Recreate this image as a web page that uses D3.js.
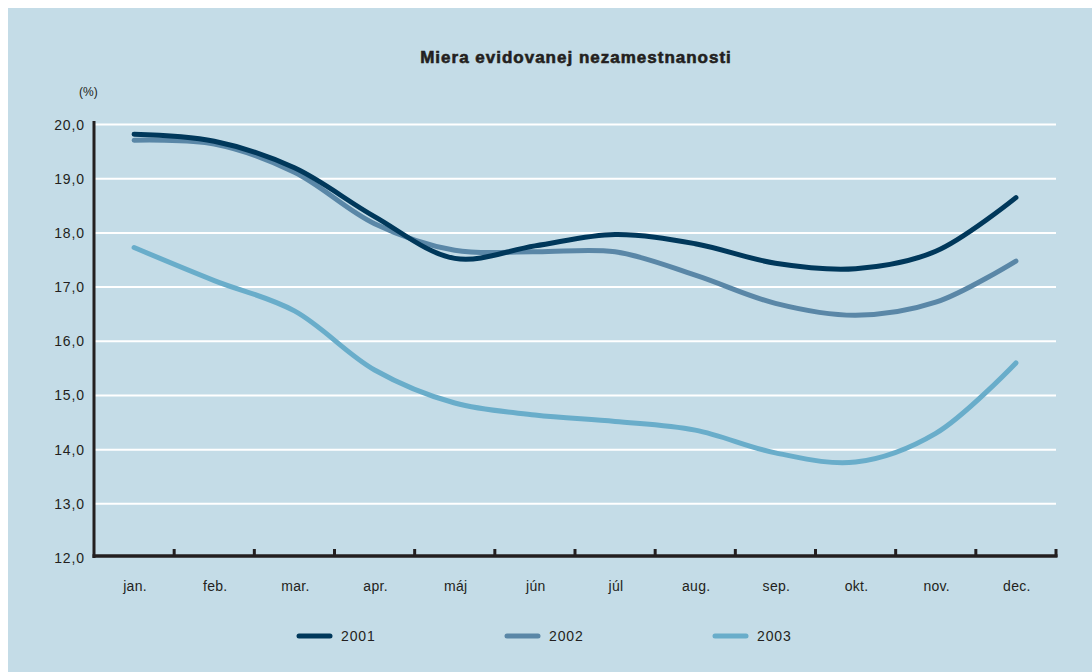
<!DOCTYPE html>
<html>
<head>
<meta charset="utf-8">
<script src="https://cdn.jsdelivr.net/npm/d3@7"></script>
<style>
  html, body { margin: 0; padding: 0; background: #ffffff; }
  svg { display: block; }
  text { font-family: "Liberation Sans", Arial, Helvetica, sans-serif; fill: #231f20; }
</style>
</head>
<body>
<script>
// Monthly registered unemployment rate (%), Slovakia
const months = ["jan.", "feb.", "mar.", "apr.", "máj", "jún", "júl", "aug.", "sep.", "okt.", "nov.", "dec."];
const years = ["2001", "2002", "2003"];
const rate2001 = [19.82, 19.69, 19.20, 18.30, 17.53, 17.76, 17.97, 17.80, 17.44, 17.34, 17.66, 18.65];
const rate2002 = [19.71, 19.64, 19.12, 18.17, 17.68, 17.65, 17.65, 17.22, 16.70, 16.48, 16.72, 17.48];
const rate2003 = [17.73, 17.12, 16.56, 15.47, 14.86, 14.64, 14.52, 14.36, 13.94, 13.77, 14.30, 15.60];
const yTicks = [12, 13, 14, 15, 16, 17, 18, 19, 20];
const seriesColors = ["#00385b", "#5a87a7", "#69adca"];

const W = 1092, H = 672;
const svg = d3.select("body").append("svg").attr("width", W).attr("height", H);

// panel background
svg.append("rect").attr("x", 8).attr("y", 8).attr("width", W - 8).attr("height", H - 8)
  .attr("fill", "#c4dce7");

const x = d3.scaleBand().domain(months).range([94, 1056]).padding(0);
const y = d3.scaleLinear().domain([12, 20]).range([558, 124.5]);
const xc = m => x(m) + x.bandwidth() / 2;

// title (heavy weight imitated with a thin outline)
svg.append("text").attr("x", 576).attr("y", 63).attr("text-anchor", "middle")
  .style("font-size", "17px").style("font-weight", "bold").style("letter-spacing", "1px")
  .attr("stroke", "#231f20").attr("stroke-width", 0.6)
  .text("Miera evidovanej nezamestnanosti");

// unit label
svg.append("text").attr("x", 79).attr("y", 96).style("font-size", "12px").text("(%)");

// horizontal gridlines
svg.append("g").selectAll("line").data(yTicks.filter(t => t > 12)).join("line")
  .attr("x1", 94).attr("x2", 1056)
  .attr("y1", d => y(d)).attr("y2", d => y(d))
  .attr("stroke", "#ffffff").attr("stroke-width", 2);

// y axis labels
const fmt = d => d.toFixed(1).replace(".", ",");
svg.append("g").selectAll("text").data(yTicks).join("text")
  .attr("x", 85).attr("y", d => y(d)).attr("dy", "0.36em")
  .attr("text-anchor", "end").style("font-size", "14px").style("letter-spacing", "0.9px")
  .text(fmt);

// series lines
const series = [rate2001, rate2002, rate2003];
const line = d3.line().x((d, i) => xc(months[i])).y(d => y(d)).curve(d3.curveCatmullRom.alpha(0.5));
svg.append("g").selectAll("path").data(series.slice().reverse()).join("path")
  .attr("d", line)
  .attr("fill", "none")
  .attr("stroke", (d, i) => seriesColors[2 - i])
  .attr("stroke-width", 5)
  .attr("stroke-linecap", "round")
  .attr("stroke-linejoin", "round");

// axes
const axisColor = "#231f20";
svg.append("line").attr("x1", 94).attr("x2", 94).attr("y1", 121).attr("y2", 558)
  .attr("stroke", axisColor).attr("stroke-width", 3);
svg.append("line").attr("x1", 92.5).attr("x2", 1057.5).attr("y1", 556).attr("y2", 556)
  .attr("stroke", axisColor).attr("stroke-width", 3.5);
const boundaries = months.slice(1).map(m => x(m)).concat([x.range()[1]]);
svg.append("g").selectAll("line").data(boundaries).join("line")
  .attr("x1", d => d).attr("x2", d => d).attr("y1", 549).attr("y2", 557)
  .attr("stroke", axisColor).attr("stroke-width", 3);

// month labels
svg.append("g").selectAll("text").data(months).join("text")
  .attr("x", d => xc(d) + 1).attr("y", 591).attr("text-anchor", "middle")
  .style("font-size", "14px").style("letter-spacing", "0.3px").text(d => d);

// legend
const legend = svg.append("g").selectAll("g").data(years).join("g")
  .attr("transform", (d, i) => `translate(${297 + i * 208},636)`);
legend.append("line").attr("x1", 2).attr("x2", 33).attr("y1", 0).attr("y2", 0)
  .attr("stroke", (d, i) => seriesColors[i]).attr("stroke-width", 5).attr("stroke-linecap", "round");
legend.append("text").attr("x", 44).attr("y", 0).attr("dy", "0.36em")
  .style("font-size", "14px").style("letter-spacing", "0.9px").text(d => d);
</script>
</body>
</html>
